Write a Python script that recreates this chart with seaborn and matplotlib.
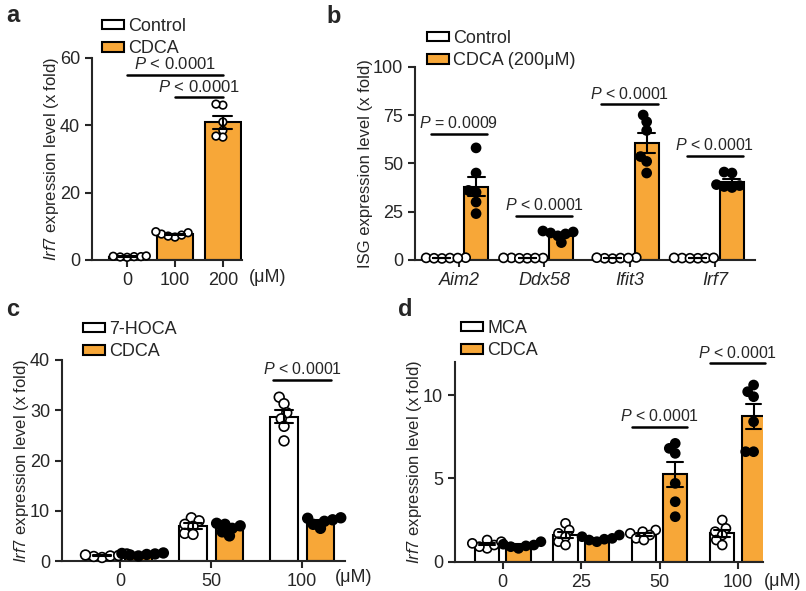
import pandas as pd
import seaborn as sns
import matplotlib.pyplot as plt
from matplotlib.patches import Patch

sns.set_style('ticks')
plt.rcParams['font.family'] = ['Liberation Sans', 'DejaVu Sans']
plt.rcParams['mathtext.fontset'] = 'custom'
plt.rcParams['mathtext.rm'] = 'Liberation Sans'
plt.rcParams['mathtext.it'] = 'Liberation Sans:italic'

orange = '#F7A738'

# ---- panel a : Irf7 vs CDCA dose
a_doses = ['0', '100', '200']
a_groups = ['Control', 'CDCA', 'CDCA']
a_values = [
    [0.8, 0.9, 1.0, 1.0, 1.1, 1.2],
    [6.8, 7.1, 7.4, 7.7, 8.1, 8.4],
    [46.0, 46.3, 41.0, 38.5, 36.5, 36.8],
]
a_sig_pairs = [(0, 2), (1, 2)]
a_sig_y = [55.0, 48.3]

# ---- panel b : ISGs
b_genes = ['Aim2', 'Ddx58', 'Ifit3', 'Irf7']
b_control = [
    [0.8, 1.0, 1.1, 0.9, 1.2, 1.0],
    [0.9, 1.0, 1.0, 1.1, 0.9, 1.1],
    [0.7, 1.0, 1.3, 0.9, 1.2, 1.0],
    [0.9, 1.0, 1.0, 1.1, 0.9, 1.1],
]
b_cdca = [
    [58.0, 45.0, 36.0, 35.0, 30.0, 24.0],
    [15.0, 14.5, 14.0, 13.5, 12.5, 9.0],
    [71.5, 75.0, 67.0, 53.5, 51.0, 45.0],
    [45.5, 45.0, 39.0, 38.0, 37.5, 38.5],
]
b_sig_text = ['P = 0.0009', 'P < 0.0001', 'P < 0.0001', 'P < 0.0001']
b_sig_y = [65.2, 22.8, 80.5, 53.8]

# ---- panel c : 7-HOCA vs CDCA
c_doses = ['0', '50', '100']
c_hoca = [
    [0.7, 0.9, 1.0, 1.1, 1.2, 1.4],
    [8.6, 8.0, 7.3, 6.9, 5.5, 5.3],
    [32.6, 31.3, 29.5, 28.3, 26.8, 23.9],
]
c_cdca = [
    [1.0, 1.2, 1.3, 1.4, 1.5, 1.6],
    [5.0, 5.8, 6.5, 7.0, 7.3, 7.5],
    [6.5, 7.3, 7.9, 8.2, 8.5, 8.6],
]
c_sig_y = [36.0]

# ---- panel d : MCA vs CDCA
d_doses = ['0', '25', '50', '100']
d_mca = [
    [0.8, 0.9, 1.0, 1.1, 1.2, 1.3],
    [2.3, 1.9, 1.7, 1.5, 1.2, 1.0],
    [1.9, 1.8, 1.7, 1.6, 1.4, 1.3],
    [2.5, 2.0, 1.8, 1.6, 1.3, 1.0],
]
d_cdca = [
    [0.8, 0.9, 0.95, 1.0, 1.05, 1.2],
    [1.2, 1.3, 1.35, 1.4, 1.5, 1.6],
    [7.1, 6.8, 6.5, 4.7, 3.6, 2.7],
    [10.6, 10.2, 9.9, 8.4, 6.6, 6.6],
]
d_sig_y = [8.1, 11.9]


def long_df(cats, groups, values):
    rows = []
    for cat, grp, vals in zip(cats, groups, values):
        for v in vals:
            rows.append((cat, grp, v))
    return pd.DataFrame(rows, columns=['cat', 'group', 'value'])


def two_groups(cats, name1, vals1, name2, vals2):
    df1 = long_df(cats, [name1] * len(cats), vals1)
    df2 = long_df(cats, [name2] * len(cats), vals2)
    return pd.concat([df1, df2], ignore_index=True)


# swarm collections and the marker size they get once the swarm is laid out
swarms = []


def draw(ax, df, order, hue_order, pt_fill, dodge, width, gap, pt_size):
    sns.barplot(data=df, x='cat', y='value', hue='group', order=order,
                hue_order=hue_order, palette={hue_order[0]: 'white', hue_order[1]: orange},
                dodge=dodge, width=width, gap=gap, saturation=1, errorbar='se',
                capsize=0.4, err_kws={'color': 'black', 'linewidth': 1.5},
                edgecolor='black', linewidth=1.5, legend=False, ax=ax)
    # lay the swarm out with smaller markers so the points overlap like in the original
    sns.swarmplot(data=df, x='cat', y='value', hue='group', order=order,
                  hue_order=hue_order, palette={hue_order[0]: 'white', hue_order[1]: pt_fill},
                  dodge=dodge, size=pt_size * 0.65, edgecolor='black', linewidth=1.2,
                  legend=False, ax=ax)
    for col in ax.collections:
        col.set_clip_on(False)
        col.set_zorder(3)
        swarms.append((col, pt_size))
    for ln in ax.lines:
        ln.set_zorder(4)
    ax.set_xlabel('')
    sns.despine(ax=ax)
    for sp in ['left', 'bottom']:
        ax.spines[sp].set_linewidth(1.5)
    ax.tick_params(width=1.5, length=5, labelsize=13)
    ax.legend(handles=[Patch(facecolor='white', edgecolor='black', linewidth=1.5),
                       Patch(facecolor=orange, edgecolor='black', linewidth=1.5)],
              labels=hue_order, frameon=False, fontsize=13, handlelength=1.2,
              handleheight=0.4, handletextpad=0.25, labelspacing=0.3,
              borderpad=0, borderaxespad=0, loc='upper left')


def sig(ax, x1, x2, y, text, fs=11.5):
    ax.plot([x1, x2], [y, y], color='black', linewidth=1.8, clip_on=False, zorder=5)
    ax.annotate(text, xy=((x1 + x2) / 2, y), xytext=(0, 2), textcoords='offset points',
                ha='center', va='bottom', fontsize=fs, annotation_clip=False)


def ptext(s):
    return '$P$' + s[1:]


W, H = 806, 591
fig = plt.figure(figsize=(W / 100, H / 100), dpi=100)


def add_axes(left, top, right, bottom):
    return fig.add_axes([left / W, 1 - bottom / H, (right - left) / W, (bottom - top) / H])


ax_a = add_axes(91.7, 58, 242, 260)
ax_b = add_axes(415, 66.7, 755, 260)
ax_c = add_axes(62, 360, 345, 561)
ax_d = add_axes(455, 361.7, 763, 561.7)

irf7_label = r'$\it{Irf7}$ expression level (x fold)'

# a
df_a = long_df(a_doses, a_groups, a_values)
draw(ax_a, df_a, a_doses, ['Control', 'CDCA'], 'white', False, 0.75, 0, 5.5)
ax_a.set_xlim(-0.74, 2.4)
ax_a.set_ylim(0, 60)
ax_a.set_yticks([0, 20, 40, 60])
ax_a.set_ylabel(irf7_label, fontsize=12, labelpad=-1)
for (i, j), y in zip(a_sig_pairs, a_sig_y):
    sig(ax_a, i, j, y, ptext('P < 0.0001'), fs=12)
ax_a.get_legend().set_bbox_to_anchor((102 / W, 1 - 18 / H), transform=fig.transFigure)

# b
df_b = two_groups(b_genes, 'Control', b_control, 'CDCA (200\u03bcM)', b_cdca)
draw(ax_b, df_b, b_genes, ['Control', 'CDCA (200\u03bcM)'], 'black', True, 0.8, 0.3, 6.5)
ax_b.set_xlim(-0.516, 3.47)
ax_b.set_ylim(0, 100)
ax_b.set_yticks([0, 25, 50, 75, 100])
ax_b.set_xticks(range(len(b_genes)))
ax_b.set_xticklabels(b_genes, style='italic')
ax_b.set_ylabel('ISG expression level (x fold)', fontsize=12, labelpad=0)
for i, (t, y) in enumerate(zip(b_sig_text, b_sig_y)):
    sig(ax_b, i - 0.33, i + 0.33, y, ptext(t))
ax_b.get_legend().set_bbox_to_anchor((427 / W, 1 - 30 / H), transform=fig.transFigure)

# c
df_c = two_groups(c_doses, '7-HOCA', c_hoca, 'CDCA', c_cdca)
draw(ax_c, df_c, c_doses, ['7-HOCA', 'CDCA'], 'black', True, 0.8, 0.25, 7)
ax_c.set_xlim(-0.64, 2.47)
ax_c.set_ylim(0, 40)
ax_c.set_yticks([0, 10, 20, 30, 40])
ax_c.set_ylabel(irf7_label, fontsize=12, labelpad=-1)
sig(ax_c, 2 - 0.32, 2 + 0.32, c_sig_y[0], ptext('P < 0.0001'))
ax_c.get_legend().set_bbox_to_anchor((83 / W, 1 - 321 / H), transform=fig.transFigure)

# d
df_d = two_groups(d_doses, 'MCA', d_mca, 'CDCA', d_cdca)
draw(ax_d, df_d, d_doses, ['MCA', 'CDCA'], 'black', True, 0.8, 0.23, 6.5)
ax_d.set_xlim(-0.61, 3.32)
ax_d.set_ylim(0, 12)
ax_d.set_yticks([0, 5, 10])
ax_d.set_ylabel(irf7_label, fontsize=12, labelpad=-1)
for i, y in zip([2, 3], d_sig_y):
    sig(ax_d, i - 0.35, i + 0.35, y, ptext('P < 0.0001'))
ax_d.get_legend().set_bbox_to_anchor((461 / W, 1 - 320 / H), transform=fig.transFigure)

# unit labels and panel letters
fig.text(268 / W, 1 - 278 / H, '(\u03bcM)', fontsize=13, ha='center', va='center')
fig.text(354 / W, 1 - 577 / H, '(\u03bcM)', fontsize=13, ha='center', va='center')
fig.text(783 / W, 1 - 582 / H, '(\u03bcM)', fontsize=13, ha='center', va='center')
for lbl, x, y in [('a', 6, 4), ('b', 326, 5), ('c', 6, 298), ('d', 398, 298)]:
    fig.text(x / W, 1 - y / H, lbl, fontsize=17, fontweight='bold', ha='left', va='top')

# run the swarm layout once, then keep the positions and enlarge the markers
fig.canvas.draw()
for col, s in swarms:
    if 'draw' in col.__dict__:
        del col.draw
    col.set_sizes([s ** 2])

fig.savefig('out.png', dpi=100)
